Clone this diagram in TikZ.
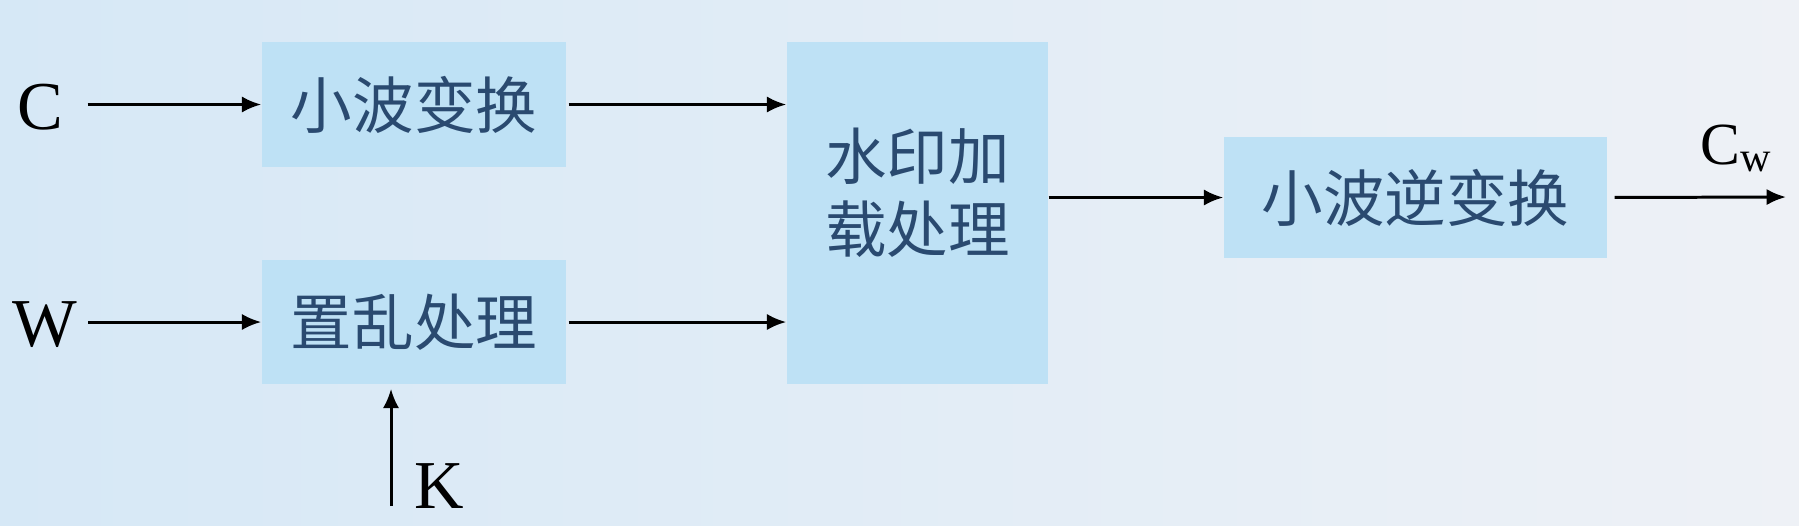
\documentclass[tikz,border=0pt]{standalone}
\usepackage{fontspec}
\setmainfont{Liberation Serif}
\newfontfamily\cjk{Noto Sans CJK SC}
\usetikzlibrary{arrows.meta}
\definecolor{bgleft}{RGB}{214,232,246}
\definecolor{bgright}{RGB}{238,241,246}
\definecolor{boxfill}{RGB}{190,225,245}
\definecolor{boxtext}{RGB}{42,74,112}

\begin{document}
\begin{tikzpicture}[
  blockbox/.style={fill=boxfill, inner sep=0pt, text=boxtext,
    font=\cjk\fontsize{17.5}{20.7}\selectfont},
  sig/.style={line width=0.85pt, -{Latex[length=5.5pt,width=4.6pt]}},
  letter/.style={font=\fontsize{19.5}{23}\selectfont, inner sep=0pt}
]
  \useasboundingbox (0,0) rectangle (17.99,-5.25);
  \fill[left color=bgleft, right color=bgright] (0,0) rectangle (17.99,-5.25);

  \coordinate (kin) at (3.91,-5.06);
  \coordinate (out) at (17.86,-1.97);

  \node[blockbox, minimum width=3.04cm, minimum height=1.25cm] (wt) at (4.14,-1.045) {小波变换};
  \node[blockbox, minimum width=3.04cm, minimum height=1.24cm] (sc) at (4.14,-3.22) {置乱处理};
  \node[blockbox, minimum width=2.61cm, minimum height=3.42cm,
    label={[yshift=0.2cm, align=center, text=boxtext,
      font=\cjk\fontsize{17.5}{20.7}\selectfont]center:水印加\\载处理}] (wm) at (9.175,-2.13) {};
  \node[blockbox, minimum width=3.83cm, minimum height=1.21cm] (iw) at (14.155,-1.975) {小波逆变换};

  \node[letter] (C) at (0.40,-1.07) {C};
  \node[letter] (W) at (0.45,-3.25) {W};
  \node[letter, anchor=west] (K) at (4.14,-4.86) {K};
  \node[inner sep=0pt, anchor=south] (Cw) at (17.36,-1.73)
    {{\fontsize{17}{20}\selectfont C}\raisebox{-0.45ex}{\fontsize{12}{14}\selectfont w}};

  % inputs
  \draw[sig, shorten <=0.24cm] (C.east |- wt) -- (wt.west);
  \draw[sig, shorten <=0.1cm] (W.east |- sc) -- (sc.west);
  \draw[sig, shorten >=0.04cm] (kin) -- (kin |- sc.south);

  % into the embedding block
  \draw[sig, shorten <=0.02cm] (wt.east) -- (wt.east -| wm.west);
  \draw[sig, shorten <=0.02cm] (sc.east) -- (sc.east -| wm.west);

  % output side
  \draw[sig] (wm.east |- iw.west) -- (iw.west);
  \draw[sig, shorten <=0.07cm] (iw.east) -- (out);
\end{tikzpicture}
\end{document}
